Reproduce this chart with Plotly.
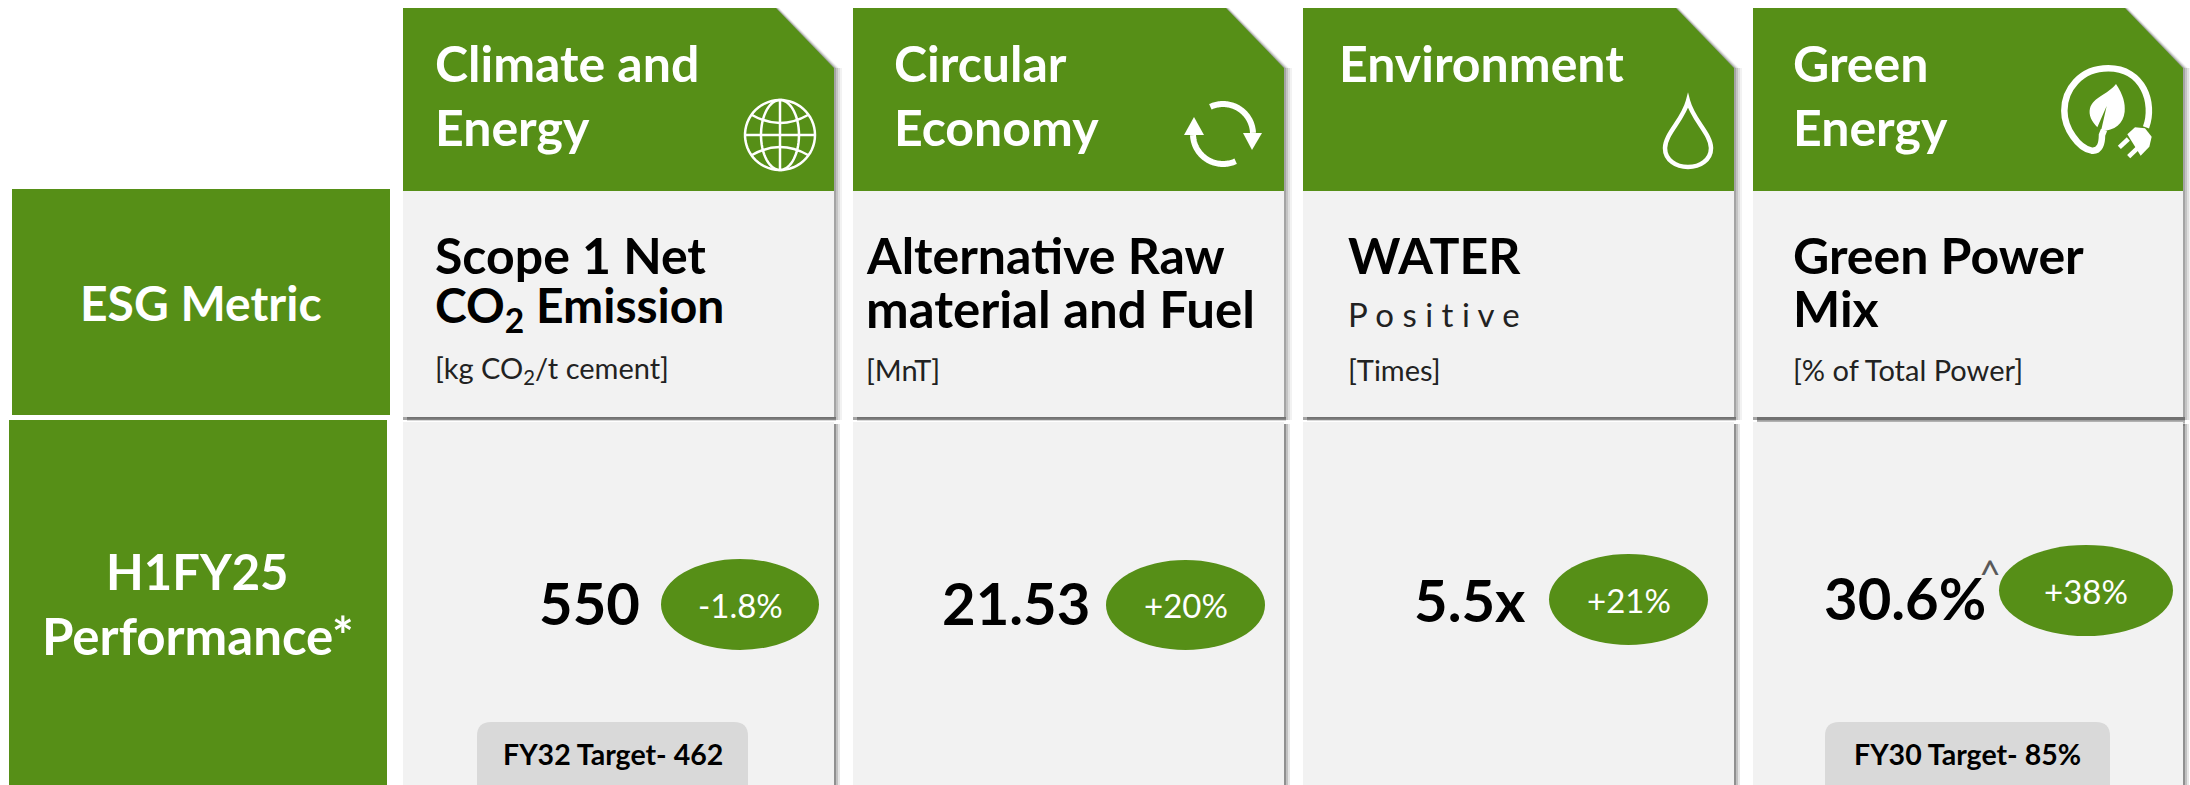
import numpy as np
import plotly.graph_objects as go

# ---------- data ----------
categories = [["Climate and", "Energy"], ["Circular", "Economy"], ["Environment"], ["Green", "Energy"]]
metric_titles = [["Scope 1 Net", "CO<sub>2</sub> Emission"], ["Alternative Raw", "material and Fuel"], ["WATER"], ["Green Power", "Mix"]]
metric_units = ["[kg CO<sub>2</sub>/t cement]", "[MnT]", "[Times]", "[% of Total Power]"]
performance = ["550", "21.53", "5.5x", "30.6%"]
changes = ["-1.8%", "+20%", "+21%", "+38%"]
targets = ["FY32 Target- 462", None, None, "FY30 Target- 85%"]
row_labels = ["ESG Metric", ["H1FY25", "Performance*"]]

# ---------- layout ----------
W, H = 2190, 785
GREEN, CELL, BOX = "#568F17", "#F2F2F2", "#D9D9D9"
FONT = "Lato"
card_x = [(403, 834), (853, 1284), (1303, 1734), (1753, 2183)]
head_text_x = [434, 893, 1338, 1792]
metric_text_x = [434, 865, 1347, 1792]
value_cx = [589, 1016, 1470, 1905]
value_cy = [602, 602, 599, 597]
pill_x = [(661, 819), (1106, 1265), (1549, 1708), (1999, 2173)]
pill_y = [(559, 650), (560, 650), (554, 645), (545, 636)]
box_x = {0: (477, 748), 3: (1825, 2110)}

shapes, notes = [], []


def rect(x0, y0, x1, y1, color, opacity=1):
    shapes.append(dict(type="rect", x0=x0, y0=y0, x1=x1, y1=y1, fillcolor=color,
                       opacity=opacity, line_width=0, layer="below"))


def path(d, fill=None, line=None, width=0):
    s = dict(type="path", path=d, layer="above")
    s["fillcolor"] = fill if fill else "rgba(0,0,0,0)"
    s["line"] = dict(color=line if line else "rgba(0,0,0,0)", width=width)
    shapes.append(s)


def poly(pts, close=False):
    return "M" + " L".join(f"{x:.2f},{y:.2f}" for x, y in pts) + (" Z" if close else "")


def arc(cx, cy, rx, ry, a0, a1, n=60):
    t = np.radians(np.linspace(a0, a1, n))
    return list(zip(cx + rx * np.cos(t), cy + ry * np.sin(t)))


def text(x, y, s, size, color="#000000", bold=False, anchor="left", family=FONT):
    notes.append(dict(x=x, y=y, text=f"<b>{s}</b>" if bold else s, showarrow=False, xanchor=anchor,
                      yanchor="middle", borderpad=0,
                      font=dict(family=family, size=size, color=color)))


# shadows + card bodies
for i, (x0, x1) in enumerate(card_x):
    for off, op in ((8, .08), (6, .12), (4, .2), (2, .3)):
        path(poly([(x1 - 58 + off * .4, 8), (x1 + off * .6, 68), (x1 + off, 68), (x1 + off, 420), (x0, 420), (x0, 8)], True),
             fill=f"rgba(90,90,90,{op})")
    extra = 9 if i == 3 else 4
    for off, op in ((extra, .25), (extra * .7, .35), (extra * .4, .45)):
        rect(x0 + 4, 417, x1 + 2, 417 + off, "#666666", op)
    for off, op in ((6, .15), (4, .25), (2, .45)):
        rect(x1, 424, x1 + off, H, "#555555", op)
for i, (x0, x1) in enumerate(card_x):
    path(poly([(x0, 8), (x1 - 58, 8), (x1, 68), (x1, 191), (x0, 191)], True), fill=GREEN)
    path(poly([(x0, 191), (x1, 191), (x1, 417), (x0, 417)], True), fill=CELL)
    path(poly([(x0, 422), (x1, 422), (x1, H), (x0, H)], True), fill=CELL)

# left row headers
path(poly([(12, 189), (390, 189), (390, 415), (12, 415)], True), fill=GREEN)
path(poly([(9, 420), (387, 420), (387, H), (9, H)], True), fill=GREEN)
text(201, 302, row_labels[0], 48, "#FFFFFF", True, "center")
text(197, 571, row_labels[1][0], 49, "#FFFFFF", True, "center")
text(198, 635, row_labels[1][1], 51, "#FFFFFF", True, "center")

# header, metric and performance text
for i in range(4):
    for line, s in enumerate(categories[i]):
        text(head_text_x[i], 63 + 64 * line, s, 50, "#FFFFFF", True)
    for line, s in enumerate(metric_titles[i]):
        size = 48 if s.startswith("CO") else (51 if s.startswith("material") else 50)
        text(metric_text_x[i], 255 + 53 * line, s, size, "#000000", True)
    text(metric_text_x[i], 369, metric_units[i], 29, "#222222")
    text(value_cx[i], value_cy[i], performance[i], 58, "#000000", True, "center")
    x0, x1 = pill_x[i]
    y0, y1 = pill_y[i]
    s = dict(type="circle", x0=x0, x1=x1, y0=y0, y1=y1, fillcolor=GREEN, line_width=0, layer="above")
    shapes.append(s)
    text((x0 + x1) / 2, (y0 + y1) / 2, changes[i], 33, "#FFFFFF", False, "center")
    if targets[i]:
        bx0, bx1 = box_x[i]
        r = 14
        path(f"M{bx0},{H} L{bx0},{722 + r} Q{bx0},722 {bx0 + r},722 L{bx1 - r},722 Q{bx1},722 {bx1},{722 + r} L{bx1},{H} Z", fill=BOX)
        text((bx0 + bx1) / 2, 754, targets[i], 28.5, "#000000", True, "center")
text(metric_text_x[2], 314, "P o s i t i v e", 33, "#222222")
text(1990, 574, "^", 38, "#595959", False, "center")

# --- icons ---
# globe
gx, gy, gr = 780, 135, 35
gc = dict(fill=None, line="#FFFFFF", width=2.5)
path(poly(arc(gx, gy, gr, gr, 0, 360), True), **gc)
path(poly(arc(gx, gy, 19, gr, 0, 360), True), **gc)
path(poly([(gx, gy - gr), (gx, gy + gr)]), **gc)
path(poly([(gx - gr, gy), (gx + gr, gy)]), **gc)
path(f"M{gx - 28},{gy - 20} Q{gx},{gy - 4} {gx + 28},{gy - 20}", **gc)
path(f"M{gx - 28},{gy + 20} Q{gx},{gy + 4} {gx + 28},{gy + 20}", **gc)

# recycle arrows
cx, cy, cr = 1223, 134, 30
path(poly(arc(cx, cy, cr, cr, -115, -2)), line="#FFFFFF", width=6)
path(poly(arc(cx, cy, cr, cr, 65, 178)), line="#FFFFFF", width=6)
path(poly([(1243, 133), (1262, 133), (1252, 150)], True), fill="#FFFFFF")
path(poly([(1184, 135), (1204, 135), (1194, 117)], True), fill="#FFFFFF")

# drop
dx = 1688
path(f"M{dx},101 C{dx + 5},120 {dx + 23},134 {dx + 23},148 C{dx + 23},160 {dx + 12},167 {dx},167 "
     f"C{dx - 12},167 {dx - 23},160 {dx - 23},148 C{dx - 23},134 {dx - 5},120 {dx},101 Z",
     line="#FFFFFF", width=4.5)


# leaf with plug; points given in the 3x crop of the icon
def z(px, py):
    return f"{2020 + px / 3:.2f},{40 + py / 3:.2f}"


path(f"M{z(378, 262)} C{z(405, 190)} {z(370, 85)} {z(265, 85)} C{z(180, 85)} {z(133, 150)} {z(133, 212)} "
     f"C{z(133, 265)} {z(175, 325)} {z(215, 332)} C{z(240, 335)} {z(246, 310)} {z(246, 285)} L{z(252, 270)}",
     line="#FFFFFF", width=6.5)
path(f"M{z(288, 132)} C{z(310, 165)} {z(316, 190)} {z(314, 215)} C{z(310, 250)} {z(285, 272)} {z(243, 273)} "
     f"L{z(260, 198)} L{z(232, 262)} C{z(215, 245)} {z(205, 225)} {z(210, 205)} C{z(220, 170)} {z(262, 165)} {z(288, 132)} Z",
     fill="#FFFFFF")
path(f"M{z(322, 283)} L{z(345, 262)} L{z(375, 265)} L{z(395, 290)} L{z(388, 320)} L{z(362, 347)} Z", fill="#FFFFFF")
path(f"M{z(298, 322)} L{z(325, 297)}", line="#FFFFFF", width=4.5)
path(f"M{z(326, 350)} L{z(352, 325)}", line="#FFFFFF", width=4.5)

fig = go.Figure()
fig.update_layout(width=W, height=H, margin=dict(l=0, r=0, t=0, b=0), showlegend=False,
                  paper_bgcolor="#FFFFFF", plot_bgcolor="#FFFFFF",
                  xaxis=dict(range=[0, W], visible=False, fixedrange=True),
                  yaxis=dict(range=[H, 0], visible=False, fixedrange=True),
                  shapes=shapes, annotations=notes)
fig.write_html("out.html", config={"displayModeBar": False},
               post_script="document.body.style.margin='0';document.body.style.overflow='hidden';")
